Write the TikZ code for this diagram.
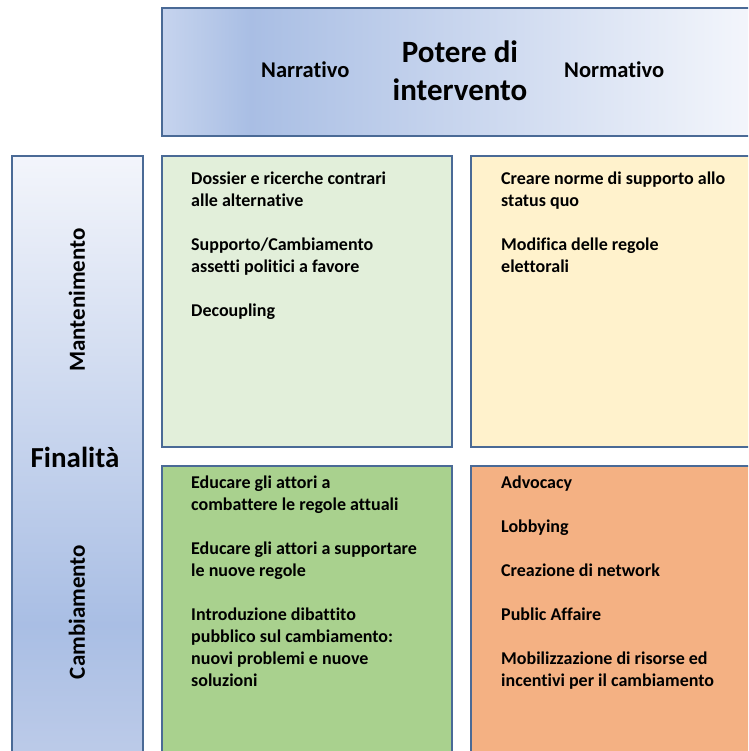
\documentclass[tikz,border=0pt]{standalone}
\usepackage{fontspec}
\setmainfont{Carlito}[Ligatures={NoCommon}]
\definecolor{bordc}{HTML}{4A6A96}
\definecolor{gTL}{HTML}{E2EFDA}
\definecolor{gTR}{HTML}{FFF2CC}
\definecolor{gBL}{HTML}{A9D18E}
\definecolor{gBR}{HTML}{F4B183}
\definecolor{hA}{HTML}{C6D4EE}
\definecolor{hB}{HTML}{A9BEE4}
\definecolor{hC}{HTML}{F5F7FC}
\definecolor{vTop}{HTML}{F3F5FB}
\definecolor{vDark}{HTML}{A9BEE4}
\definecolor{vBot}{HTML}{BECCE9}
\pgfdeclarehorizontalshading{hdrshade}{100bp}{color(0bp)=(hA); color(25bp)=(hA); color(32.4bp)=(hB); color(75bp)=(hC); color(100bp)=(hC)}
\pgfdeclareverticalshading{barshade}{100bp}{color(0bp)=(vBot); color(25bp)=(vBot); color(36.6bp)=(vDark); color(75bp)=(vTop); color(100bp)=(vTop)}
\tikzset{
  cell/.style={draw=bordc, line width=1.6pt, rectangle, anchor=north west, inner sep=0pt},
  body/.style={anchor=north west, inner sep=0pt, align=left, font=\fontsize{18}{22}\selectfont\bfseries},
  colhead/.style={anchor=base west, inner sep=0pt, font=\fontsize{22.5}{27}\selectfont\bfseries},
  rowhead/.style={inner sep=0pt, rotate=90, font=\fontsize{23}{28}\selectfont\bfseries},
}
\begin{document}
\begin{tikzpicture}[x=1pt,y=-1pt]
\useasboundingbox (0,0) rectangle (748,751);
\clip (0,0) rectangle (748,751);
% header and side bar
\node[cell, shading=hdrshade, minimum width=600pt, minimum height=128pt] (hdr) at (161,7) {};
\node[cell, shading=barshade, minimum width=131pt, minimum height=610pt] (bar) at (11,155) {};
% quadrants
\node[cell, fill=gTL, minimum width=290pt, minimum height=291pt] (tl) at (161,155) {};
\node[cell, fill=gTR, minimum width=290pt, minimum height=291pt] (tr) at (470,155) {};
\node[cell, fill=gBL, minimum width=290pt, minimum height=300pt] (bl) at (161,465) {};
\node[cell, fill=gBR, minimum width=290pt, minimum height=300pt] (br) at (470,465) {};
% header texts
\node[anchor=north, inner sep=0pt, align=center, font=\fontsize{31}{38}\selectfont\bfseries] (pot) at (460,36) {\rule{0pt}{26pt}Potere di\\intervento};
\node[colhead] (narr) at (261,78) {Narrativo};
\node[colhead] (norm) at (564,78) {Normativo};
% side texts
\node[anchor=base, inner sep=0pt, font=\fontsize{29}{34}\selectfont\bfseries] (fin) at (75,467) {Finalità};
\node[rowhead] (mant) at (77,300) {Mantenimento};
\node[rowhead] (camb) at (77,612) {Cambiamento};
% quadrant texts
\node[body] (ttl) at (191,168) {\rule{0pt}{16pt}Dossier e ricerche contrari\\alle alternative\\[22pt]Supporto/Cambiamento\\assetti politici a favore\\[22pt]Decoupling};
\node[body] (ttr) at (501,168) {\rule{0pt}{16pt}Creare norme di supporto allo\\status quo\\[22pt]Modifica delle regole\\elettorali};
\node[body] (tbl) at (191,472) {\rule{0pt}{16pt}Educare gli attori a\\combattere le regole attuali\\[22pt]Educare gli attori a supportare\\le nuove regole\\[22pt]Introduzione dibattito\\pubblico sul cambiamento:\\nuovi problemi e nuove\\soluzioni};
\node[body] (tbr) at (501,472) {\rule{0pt}{16pt}Advocacy\\[22pt]Lobbying\\[22pt]Creazione di network\\[22pt]Public Affaire\\[22pt]Mobilizzazione di risorse ed\\incentivi per il cambiamento};
\end{tikzpicture}
\end{document}
